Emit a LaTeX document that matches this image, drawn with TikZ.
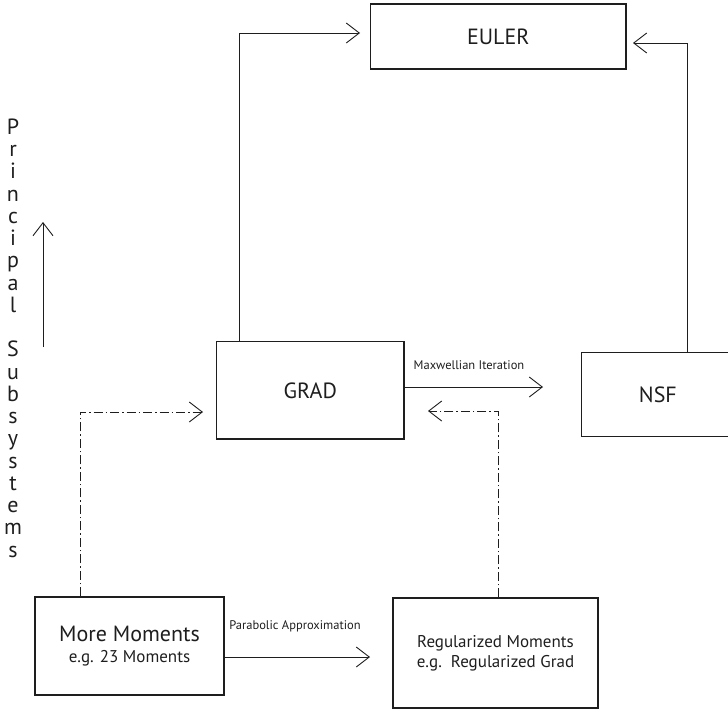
\documentclass[tikz,border=0pt]{standalone}
\usepackage{fontspec}
\setmainfont{PT Sans}
\usetikzlibrary{arrows.meta}
\definecolor{ink}{HTML}{1E1E1E}
\begin{document}
\begin{tikzpicture}[x=1pt,y=-1pt,
  box/.style={draw=ink,line width=1.1pt,inner sep=0pt,align=center,text=ink},
  big/.style={font=\fontsize{22}{24}\selectfont},
  conn/.style={draw=ink,line width=0.9pt,-{Straight Barb[length=13pt,width=20pt,line width=0.9pt]}},
  dd/.style={conn,dash pattern=on 9pt off 3pt on 1.5pt off 3pt},
  tag/.style={font=\fontsize{12.5}{14}\selectfont,text=ink,inner sep=0pt},
  vlet/.style={font=\fontsize{22}{24}\selectfont,text=ink,anchor=base,inner sep=0pt}]
\useasboundingbox (0,0) rectangle (728,710);
\clip (0,0) rectangle (728,710);

% boxes
\node[box,big,minimum width=255.3pt,minimum height=65pt] (euler) at (498.3,36.5) {EULER};
\node[box,big,minimum width=187.3pt,minimum height=97.3pt] (grad) at (310.3,390.3) {GRAD};
\node[box,big,minimum width=152.3pt,minimum height=84pt] (nsf) at (657.9,394.7) {NSF};
\node[box,minimum width=189pt,minimum height=98pt,font=\fontsize{17}{21}\selectfont] (mm) at (129.5,646)
  {{\fontsize{22}{24}\selectfont More Moments}\\e.g. 23 Moments};
\node[box,minimum width=205pt,minimum height=110pt,font=\fontsize{17}{20}\selectfont] (reg) at (495.5,653)
  {Regularized Moments\\e.g.\ \ Regularized Grad};

% free arrow ends
\coordinate (eulerL) at (360,33);
\coordinate (eulerR) at (633,43);
\coordinate (nsfL) at (543,387);
\coordinate (gradR) at (428,411);
\coordinate (gradL) at (203,412);
\coordinate (regL) at (370,657);
\coordinate (psb) at (43,347);
\coordinate (pst) at (43,222);

% connectors
\draw[conn] ([xshift=-71.3pt]grad.north) |- (eulerL);
\draw[conn] ([xshift=29.1pt]nsf.north) |- (eulerR);
\draw[conn] (grad.east |- nsfL) -- (nsfL);
\draw[dd] ([xshift=2.5pt]reg.north) |- (gradR);
\draw[dd] ([xshift=-49.5pt]mm.north) |- (gradL);
\draw[conn] (mm.east |- regL) -- (regL);
\draw[conn] (psb) -- (pst);

% edge labels
\node[tag] (maxw) at (469,365) {Maxwellian Iteration};
\node[tag] (parab) at (295,626) {Parabolic Approximation};

% vertical axis caption
\foreach \ch [count=\i] in {P,r,i,n,c,i,p,a,l}
  \node[vlet] (pa\i) at (13,134.5+22.24*\i-22.24) {\ch};
\foreach \ch [count=\i] in {S,u,b,s,y,s,t,e,m,s}
  \node[vlet] (su\i) at (13,334.7+22.24*\i) {\ch};
\end{tikzpicture}
\end{document}
